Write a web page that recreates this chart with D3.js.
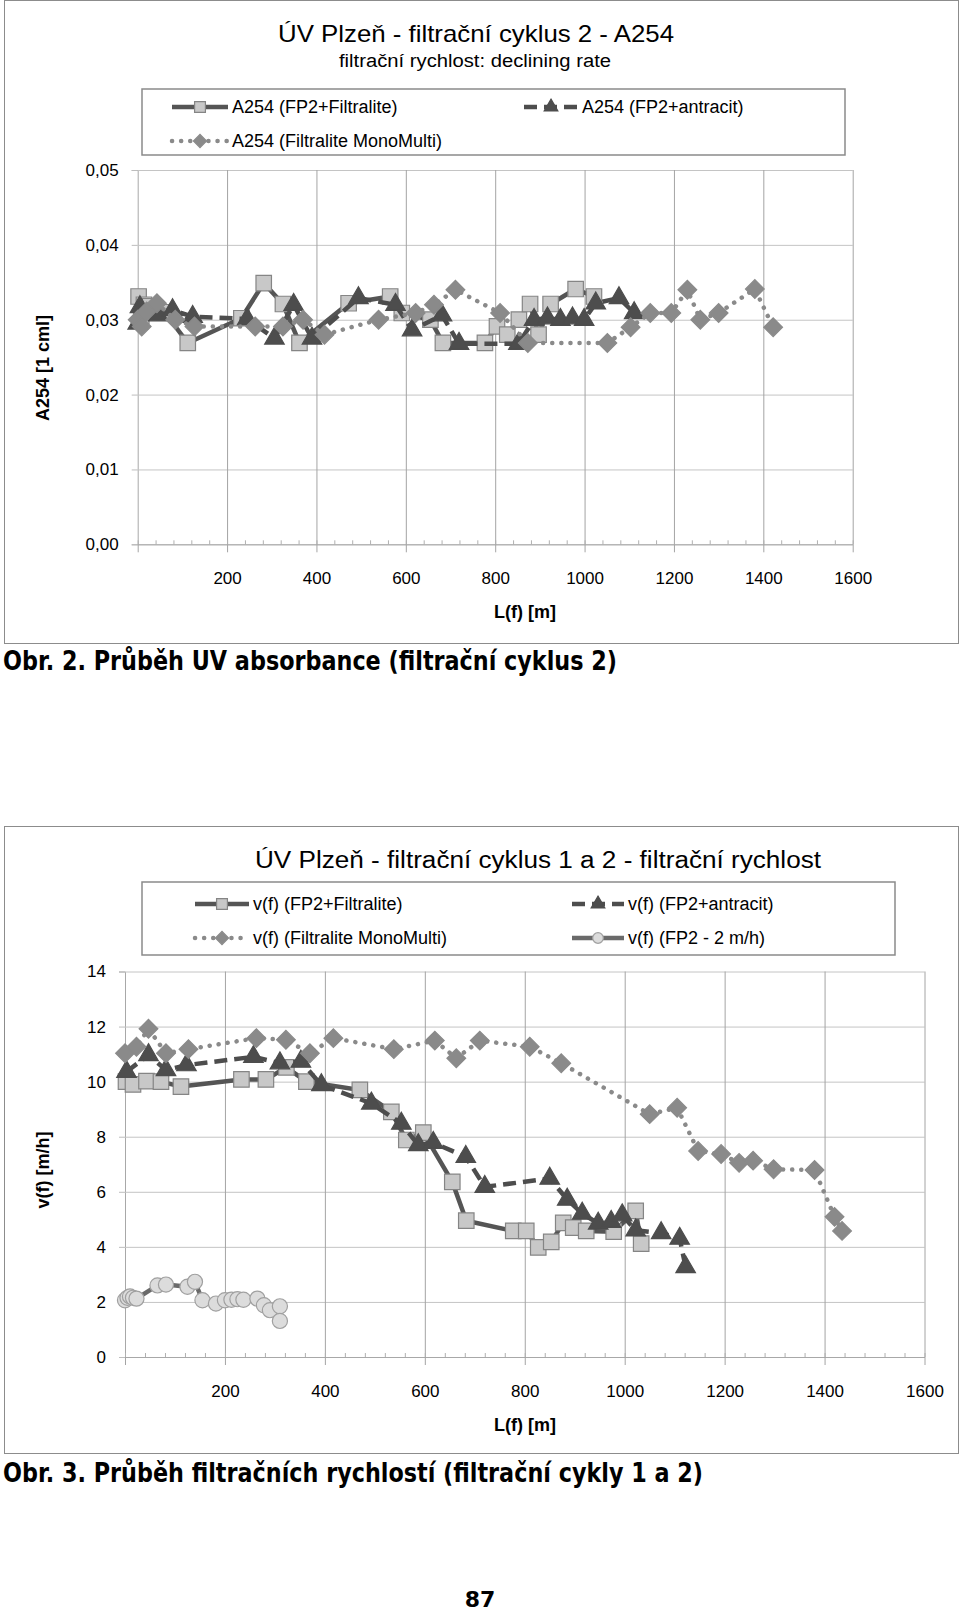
<!DOCTYPE html>
<html>
<head>
<meta charset="utf-8">
<script src="https://cdn.jsdelivr.net/npm/d3@7"></script>
<style>
  body { margin: 0; background: #fff; }
  svg { display: block; }
  text { font-family: "Liberation Sans", Arial, sans-serif; fill: #000; }
</style>
</head>
<body>
<script>
// ---------- data: Obr. 2 (A254) ----------
const lenTicks = [200, 400, 600, 800, 1000, 1200, 1400, 1600];
const a254Ticks = [0, 0.01, 0.02, 0.03, 0.04, 0.05];

const a254Filtralite = [
  [2, 0.0331], [8, 0.0305], [14, 0.032], [28, 0.0318], [60, 0.031], [112, 0.0269],
  [232, 0.0302], [282, 0.0349], [325, 0.0321], [362, 0.0269], [472, 0.0322],
  [565, 0.0331], [591, 0.0309], [655, 0.030], [683, 0.0269], [777, 0.0269],
  [804, 0.0291], [827, 0.028], [853, 0.030], [878, 0.0321], [897, 0.028],
  [924, 0.0321], [980, 0.0341], [1021, 0.0331]
];
const a254Antracit = [
  [0, 0.0295], [5, 0.0317], [46, 0.0306], [78, 0.0313], [123, 0.0304], [245, 0.0301],
  [306, 0.0275], [349, 0.032], [390, 0.0275], [494, 0.0329], [577, 0.032],
  [614, 0.0286], [681, 0.0306], [719, 0.0268], [852, 0.0268], [887, 0.030],
  [917, 0.0302], [946, 0.030], [973, 0.0302], [999, 0.030], [1025, 0.0322],
  [1077, 0.0329], [1111, 0.0309]
];
const a254MonoMulti = [
  [0, 0.030], [9, 0.0291], [20, 0.0311], [43, 0.0322], [84, 0.030], [127, 0.0291],
  [263, 0.0291], [325, 0.0291], [370, 0.030], [418, 0.028], [539, 0.030],
  [622, 0.0309], [663, 0.032], [711, 0.034], [811, 0.0309], [873, 0.0269],
  [1051, 0.0269], [1103, 0.029], [1147, 0.0309], [1194, 0.0309], [1230, 0.034],
  [1259, 0.030], [1300, 0.0309], [1381, 0.0341], [1422, 0.029]
];

// ---------- data: Obr. 3 (v(f)) ----------
const vfTicks = [0, 2, 4, 6, 8, 10, 12, 14];

const vfFiltralite = [
  [2, 10.0], [16, 9.9], [43, 10.02], [72, 10.0], [112, 9.82], [233, 10.08],
  [282, 10.08], [323, 10.52], [363, 10.0], [470, 9.7], [533, 8.9], [563, 7.88],
  [597, 8.15], [655, 6.36], [683, 4.95], [777, 4.58], [803, 4.58], [827, 3.98],
  [853, 4.18], [877, 4.87], [897, 4.7], [923, 4.58], [978, 4.55], [1022, 5.31],
  [1033, 4.12]
];
const vfAntracit = [
  [3, 10.36], [47, 10.97], [82, 10.42], [123, 10.6], [257, 10.9], [310, 10.67],
  [352, 10.73], [393, 9.88], [493, 9.21], [553, 8.48], [587, 7.7], [617, 7.78],
  [682, 7.27], [720, 6.18], [850, 6.48], [885, 5.72], [915, 5.21], [947, 4.85],
  [973, 4.91], [995, 5.15], [1022, 4.6], [1073, 4.5], [1110, 4.3], [1122, 3.27]
];
const vfMonoMulti = [
  [0, 11.03], [23, 11.27], [47, 11.92], [82, 11.03], [127, 11.18], [263, 11.58],
  [322, 11.52], [370, 11.03], [417, 11.58], [538, 11.18], [620, 11.49], [663, 10.85],
  [710, 11.49], [810, 11.27], [873, 10.67], [1050, 8.82], [1105, 9.05], [1147, 7.48],
  [1193, 7.37], [1229, 7.05], [1257, 7.13], [1298, 6.82], [1380, 6.79], [1420, 5.09],
  [1435, 4.58]
];
const vfFp2Slow = [
  [0, 2.06], [5, 2.15], [10, 2.2], [16, 2.15], [23, 2.12], [65, 2.6], [82, 2.63],
  [125, 2.55], [140, 2.73], [155, 2.06], [182, 1.94], [200, 2.06], [213, 2.08],
  [225, 2.1], [237, 2.08], [265, 2.12], [278, 1.88], [290, 1.7], [310, 1.84], [310, 1.31]
];

// series looks (Excel grayscale)
const styles = {
  square:   { line: "#555", dash: null,       cap: "butt",  sym: d3.symbolSquare,   size: 240, fill: "#c8c8c8", stroke: "#858585", rot: 0 },
  triangle: { line: "#4d4d4d", dash: "13,7",  cap: "butt",  sym: d3.symbolTriangle, size: 165, fill: "#4d4d4d", stroke: "#4d4d4d", rot: 0 },
  diamond:  { line: "#8a8a8a", dash: "0.1,9", cap: "round", sym: d3.symbolSquare,   size: 175, fill: "#8a8a8a", stroke: "#8a8a8a", rot: 45 },
  circle:   { line: "#6a6a6a", dash: null,       cap: "butt",  sym: d3.symbolCircle,   size: 180, fill: "#dcdcdc", stroke: "#a0a0a0", rot: 0 }
};

const svg = d3.select("body").append("svg").attr("width", 960).attr("height", 1613);
svg.append("rect").attr("width", 960).attr("height", 1613).attr("fill", "#fff");

const commaFmt = d3.formatLocale({ decimal: ",", thousands: " ", grouping: [3], currency: ["", ""] }).format(".2f");

// a little helper to write fitted text
const label = (x, y, str, opt = {}) => {
  const t = svg.append("text")
    .attr("x", x).attr("y", y)
    .attr("text-anchor", opt.anchor || "middle")
    .style("font-size", (opt.size || 17) + "px")
    .style("font-weight", opt.bold ? "bold" : "normal")
    .text(str);
  if (opt.family) t.style("font-family", opt.family);
  if (opt.fit) t.attr("textLength", opt.fit).attr("lengthAdjust", "spacingAndGlyphs");
  if (opt.rotate) t.attr("transform", `rotate(-90,${x},${y})`);
  return t;
};

const drawMarker = (g, st, cx, cy, scale = 1) => {
  g.append("path")
    .attr("d", d3.symbol().type(st.sym).size(st.size * scale * scale)())
    .attr("transform", `translate(${cx},${cy}) rotate(${st.rot})`)
    .attr("fill", st.fill)
    .attr("stroke", st.stroke)
    .attr("stroke-width", 1.2);
};

function drawPanel(p) {
  const x = d3.scaleLinear().domain([0, 1600]).range([p.left, p.right]);
  const y = d3.scaleLinear().domain([0, p.yMax]).range([p.bottom, p.top]);
  const w = p.right - p.left, h = p.bottom - p.top;

  // horizontal grid + left ticks and labels
  const gy = svg.append("g").attr("transform", `translate(${p.left},0)`)
    .call(d3.axisLeft(y).tickValues(p.yTicks).tickSize(6).tickPadding(13).tickFormat(p.yFormat));
  gy.select(".domain").attr("stroke", "#a8a8a8");
  gy.selectAll(".tick line").attr("stroke", "#bdbdbd");
  gy.selectAll(".tick text").style("font-size", "17px").style("font-family", "Liberation Sans, Arial");
  svg.append("g").attr("transform", `translate(${p.left},0)`)
    .call(d3.axisLeft(y).tickValues(p.yTicks).tickSize(-w).tickFormat(""))
    .call(g => g.select(".domain").remove())
    .selectAll(".tick line").attr("stroke", "#c4c4c4");

  // vertical grid
  svg.append("g").attr("transform", `translate(0,${p.bottom})`)
    .call(d3.axisBottom(x).tickValues(lenTicks).tickSize(-h).tickFormat(""))
    .call(g => g.select(".domain").remove())
    .selectAll(".tick line").attr("stroke", "#a4a4a4");

  // minor ticks every 40 m
  svg.append("g").attr("transform", `translate(0,${p.bottom})`)
    .call(d3.axisBottom(x).tickValues(d3.range(0, 1601, 40)).tickSize(-4).tickFormat(""))
    .call(g => g.select(".domain").remove())
    .selectAll(".tick line").attr("stroke", "#b0b0b0");

  // bottom axis with labels
  const gx = svg.append("g").attr("transform", `translate(0,${p.bottom})`)
    .call(d3.axisBottom(x).tickValues([0].concat(lenTicks)).tickSize(8).tickSizeOuter(0).tickPadding(20)
      .tickFormat(d => d === 0 ? "" : d));
  gx.select(".domain").attr("stroke", "#a8a8a8");
  gx.selectAll(".tick line").attr("stroke", "#a4a4a4");
  gx.selectAll(".tick text").style("font-size", "17px").style("font-family", "Liberation Sans, Arial");

  const line = d3.line().x(d => x(d[0])).y(d => y(d[1]));

  // series in Excel order: line then markers
  p.series.forEach(s => {
    const st = styles[s.look];
    svg.append("path")
      .datum(s.data)
      .attr("d", line)
      .attr("fill", "none")
      .attr("stroke", st.line)
      .attr("stroke-width", 4.5)
      .attr("stroke-linecap", st.cap)
      .attr("stroke-linejoin", "round")
      .attr("stroke-dasharray", st.dash);
    const gm = svg.append("g");
    s.data.forEach(d => drawMarker(gm, st, x(d[0]), y(d[1])));
  });
}

function drawLegend(box, items) {
  svg.append("rect")
    .attr("x", box.x).attr("y", box.y).attr("width", box.w).attr("height", box.h)
    .attr("fill", "#fff").attr("stroke", "#8a8a8a").attr("stroke-width", 1.5);
  items.forEach(it => {
    const st = styles[it.look];
    svg.append("line")
      .attr("x1", it.x).attr("x2", it.x + it.len).attr("y1", it.y - 6).attr("y2", it.y - 6)
      .attr("stroke", st.line).attr("stroke-width", 4.5)
      .attr("stroke-linecap", st.cap).attr("stroke-dasharray", st.dash);
    drawMarker(svg, st, it.x + it.len / 2, it.y - 6, 0.7);
    label(it.x + it.len + 4, it.y, it.text, { anchor: "start", size: 18 });
  });
}

// ---------- Obr. 2 ----------
svg.append("rect").attr("x", 4.5).attr("y", 0.5).attr("width", 954).attr("height", 643)
  .attr("fill", "none").attr("stroke", "#8c8c8c");

label(476, 42, "ÚV Plzeň - filtrační cyklus 2 - A254", { size: 24, fit: 396 });
label(475, 67, "filtrační rychlost: declining rate", { size: 18, fit: 272 });

drawLegend({ x: 142, y: 89, w: 703, h: 66 }, [
  { look: "square", x: 172, y: 113, len: 56, text: "A254 (FP2+Filtralite)" },
  { look: "triangle", x: 524, y: 113, len: 54, text: "A254 (FP2+antracit)" },
  { look: "diamond", x: 172, y: 147, len: 56, text: "A254 (Filtralite MonoMulti)" }
]);

drawPanel({
  left: 137.7, right: 852.7, top: 170, bottom: 544.3,
  yMax: 0.05, yTicks: a254Ticks, yFormat: commaFmt,
  series: [
    { look: "square", data: a254Filtralite },
    { look: "triangle", data: a254Antracit },
    { look: "diamond", data: a254MonoMulti }
  ]
});

label(525, 618, "L(f) [m]", { size: 18, bold: true });
label(49, 368, "A254 [1 cml]", { size: 18, bold: true, rotate: true });

label(3, 670, "Obr. 2.  Průběh UV absorbance (filtrační cyklus 2)",
  { anchor: "start", size: 26, bold: true, fit: 614, family: "DejaVu Sans, Verdana" });

// ---------- Obr. 3 ----------
svg.append("rect").attr("x", 4.5).attr("y", 826.5).attr("width", 954).attr("height", 627)
  .attr("fill", "none").attr("stroke", "#8c8c8c");

label(538, 868, "ÚV Plzeň - filtrační cyklus 1 a 2 - filtrační rychlost", { size: 23, fit: 566 });

drawLegend({ x: 142, y: 882, w: 753, h: 73 }, [
  { look: "square", x: 195, y: 910, len: 54, text: "v(f) (FP2+Filtralite)" },
  { look: "triangle", x: 572, y: 910, len: 52, text: "v(f) (FP2+antracit)" },
  { look: "diamond", x: 195, y: 944, len: 54, text: "v(f) (Filtralite MonoMulti)" },
  { look: "circle", x: 572, y: 944, len: 52, text: "v(f) (FP2 - 2 m/h)" }
]);

drawPanel({
  left: 125, right: 924.5, top: 971.5, bottom: 1357,
  yMax: 14, yTicks: vfTicks, yFormat: d3.format("d"),
  series: [
    { look: "square", data: vfFiltralite },
    { look: "triangle", data: vfAntracit },
    { look: "diamond", data: vfMonoMulti },
    { look: "circle", data: vfFp2Slow }
  ]
});

label(525, 1431, "L(f) [m]", { size: 18, bold: true });
label(49, 1170, "v(f) [m/h]", { size: 18, bold: true, rotate: true });

label(3, 1482, "Obr. 3.  Průběh filtračních rychlostí (filtrační cykly 1 a 2)",
  { anchor: "start", size: 26, bold: true, fit: 700, family: "DejaVu Sans, Verdana" });

label(480, 1607, "87", { size: 22, bold: true, family: "DejaVu Sans, Verdana" });
</script>
</body>
</html>
